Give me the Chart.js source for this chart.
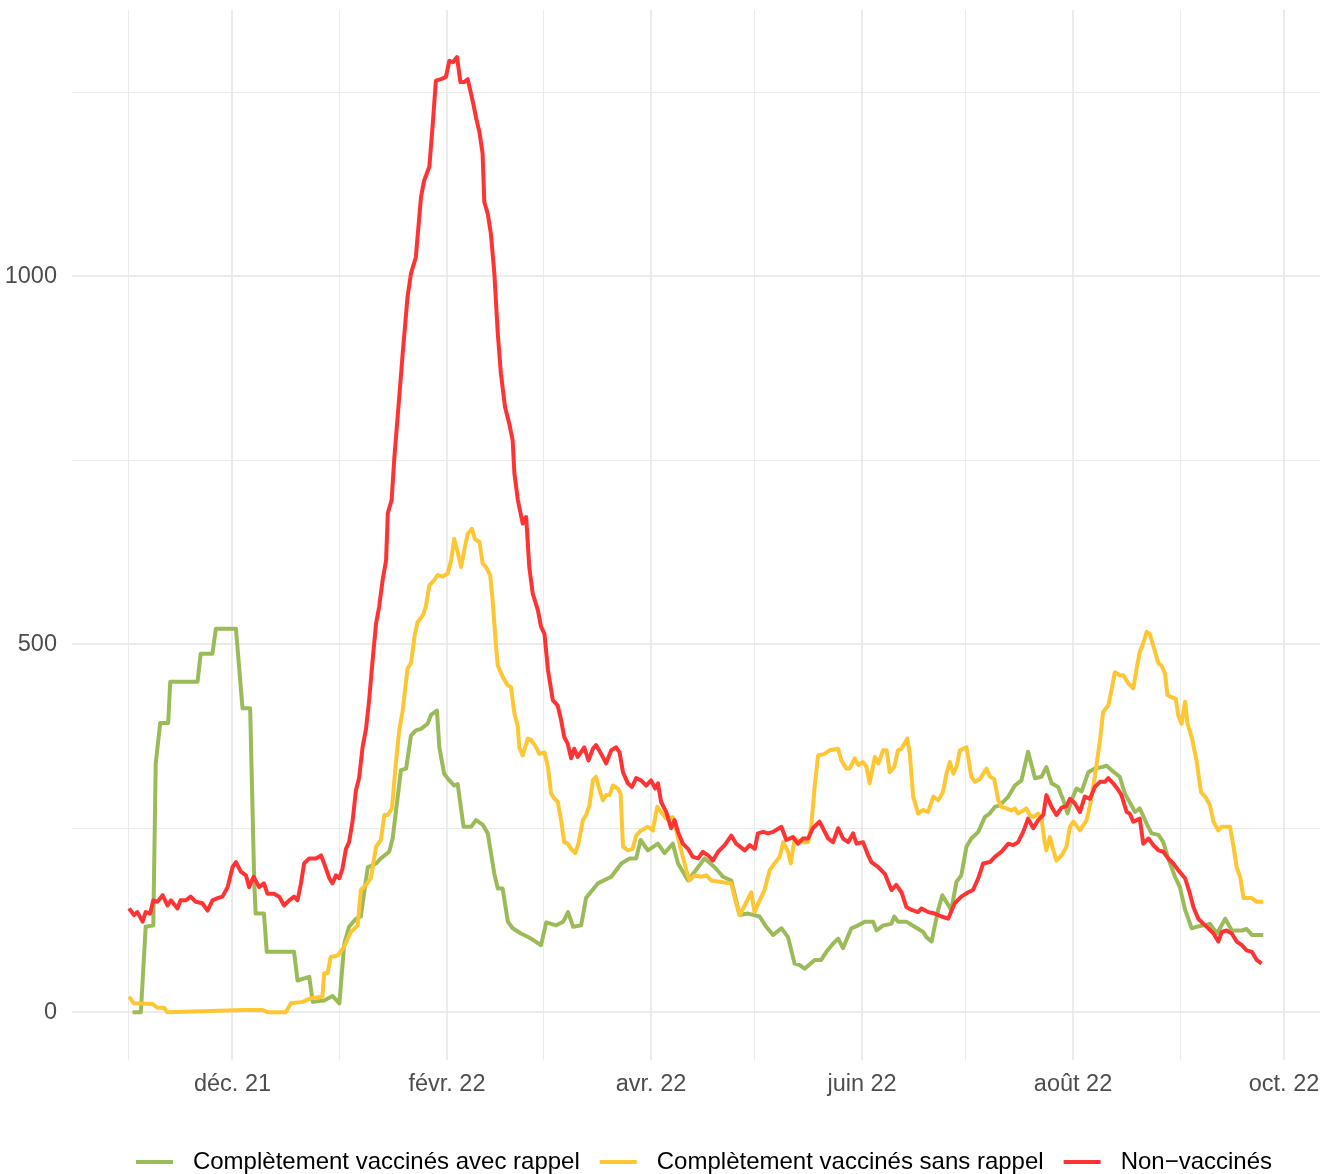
<!DOCTYPE html>
<html lang="fr">
<head>
<meta charset="utf-8">
<title>Vaccination</title>
<script src="https://cdn.jsdelivr.net/npm/chart.js@4.4.0/dist/chart.umd.min.js"></script>
<style>
  html, body { margin: 0; padding: 0; background: #fff; }
  #wrap { width: 1323px; height: 1174px; }
</style>
</head>
<body>
<div id="wrap"><canvas id="chart" width="1323" height="1174"></canvas></div>
<script>
  // jours depuis le 1er nov. 2021
  const xTickDays = [0, 30, 61, 92, 120, 151, 181, 212, 242, 273, 304, 334];
  const xTickLabels = { 30: 'déc. 21', 92: 'févr. 22', 151: 'avr. 22', 212: 'juin 22', 273: 'août 22', 334: 'oct. 22' };
  const yTicks = [0, 250, 500, 750, 1000, 1250];
  const yTickLabels = { 0: '0', 500: '500', 1000: '1000' };

  const seriesNames = ['Complètement vaccinés avec rappel', 'Complètement vaccinés sans rappel', 'Non−vaccinés'];
  const seriesColors = ['#9BBB59', '#FFC633', '#FF3333'];

  // ======== séries [jour, valeur] ========
  const avecRappel = [
    [1.1,0],[3.5,0],[4.9,116],[7.1,118],[7.8,338],[9.1,393],[11.4,393],[12.0,449],[19.9,449],[20.8,487],
    [24.2,487],[25.2,521],[31.0,521],[32.9,413],[35.1,413],[36.3,175],[36.7,134],[39.1,134],[39.9,82],[47.8,82],
    [48.8,43],[52.2,48],[53.2,14],[56.5,16],[58.9,22],[60.9,12],[62.3,93],[63.7,116],[65.7,127],[67.1,130],
    [69.1,197],[71.5,202],[72.9,209],[75.3,218],[76.3,236],[78.7,329],[80.2,331],[81.6,376],[83.0,383],[84.5,385],
    [86.4,392],[87.4,404],[89.1,410],[89.8,360],[91.2,324],[92.7,315],[94.1,308],[95.1,310],[96.8,252],[99.0,252],
    [100.4,261],[102.3,255],[103.8,243],[105.7,188],[106.7,168],[108.1,168],[109.6,123],[111.0,114],[113.4,107],[116.3,100],
    [119.2,91],[120.7,122],[123.6,118],[125.6,123],[127.0,136],[128.5,116],[130.8,118],[132.2,155],[135.6,175],[139.5,184],
    [142.4,202],[144.8,209],[146.7,209],[148.0,234],[150.1,220],[153.0,229],[154.9,216],[157.3,229],[158.8,202],[161.7,179],
    [164.6,197],[166.5,209],[169.4,197],[171.8,184],[174.2,179],[176.6,132],[179.0,134],[182.4,130],[184.3,116],[186.3,105],
    [188.7,114],[190.6,102],[192.5,66],[194.0,64],[195.4,59],[198.3,71],[200.2,71],[201.7,82],[203.6,93],[205.1,100],
    [206.5,87],[208.9,114],[210.9,118],[212.8,123],[215.2,123],[216.2,111],[218.1,118],[220.5,120],[221.3,130],[222.4,123],
    [224.8,123],[227.2,116],[229.7,109],[230.6,102],[232.1,96],[234.0,139],[235.2,159],[237.8,139],[239.3,177],[240.7,186],
    [242.2,225],[243.6,236],[245.6,245],[247.5,265],[248.9,270],[250.4,279],[251.8,281],[254.3,293],[256.2,308],[258.1,315],
    [260.0,354],[262.0,318],[263.9,320],[265.3,333],[266.8,311],[268.7,306],[270.2,288],[271.4,270],[272.6,288],[274.0,304],
    [275.5,300],[277.4,326],[279.3,331],[281.3,333],[282.7,335],[284.1,329],[286.5,320],[288.0,297],[289.9,281],[290.9,272],
    [292.3,277],[294.3,256],[295.7,243],[297.7,241],[299.1,231],[300.5,209],[302.5,184],[303.9,170],[305.4,139],[307.3,114],
    [308.7,116],[310.7,118],[312.6,120],[314.6,107],[317.0,127],[318.9,111],[321.8,111],[323.2,113],[324.7,105],[328.0,105]
  ];

  const sansRappel = [
    [0.1,21],[1.5,12],[6.9,11],[8.3,6],[10.2,6],[11.2,0],[33.4,3],[38.7,3],[40.1,0],[45.4,0],
    [46.9,12],[50.3,14],[52.7,19],[56.0,21],[56.5,53],[57.5,53],[58.4,75],[60.4,77],[62.3,89],[64.2,109],
    [66.2,118],[67.1,166],[68.6,173],[70.0,182],[71.5,225],[72.9,234],[73.9,268],[74.9,268],[76.1,277],[77.3,342],
    [78.2,383],[79.2,410],[80.6,467],[81.6,474],[82.6,510],[83.5,530],[85.0,539],[85.9,551],[86.9,580],[88.3,587],
    [89.3,594],[90.8,592],[92.2,596],[93.2,614],[94.1,643],[95.1,625],[96.1,605],[97.0,628],[98.0,650],[99.2,657],
    [100.1,643],[101.4,639],[102.3,610],[103.3,605],[104.5,594],[105.2,560],[106.2,496],[106.7,471],[108.1,456],[109.6,444],
    [110.5,442],[111.5,406],[112.5,388],[112.9,360],[113.9,349],[115.4,372],[116.3,370],[117.8,360],[118.7,351],[120.2,353],
    [121.2,333],[122.1,297],[123.1,290],[124.0,286],[125.0,261],[125.9,231],[126.9,229],[127.9,222],[129.1,216],[130.0,229],
    [131.3,261],[132.2,268],[133.2,281],[134.2,315],[135.1,320],[136.1,302],[137.1,288],[138.0,295],[139.0,295],[140.0,308],
    [141.4,304],[142.2,297],[142.9,225],[144.3,220],[145.7,222],[146.7,240],[148.1,247],[150.1,252],[151.5,247],[152.8,279],
    [153.9,272],[155.4,263],[157.3,265],[158.3,247],[159.7,220],[161.2,193],[162.1,179],[163.6,186],[165.5,184],[167.0,186],
    [168.4,179],[171.3,177],[174.2,175],[175.6,148],[176.6,132],[178.1,145],[180.0,163],[180.9,136],[182.4,152],[183.8,166],
    [185.3,193],[186.7,202],[188.2,211],[189.2,231],[190.6,218],[191.4,202],[192.5,236],[194.4,231],[196.4,231],[197.3,252],
    [198.3,306],[199.3,349],[201.2,351],[202.6,356],[205.1,358],[206.0,342],[207.5,331],[208.4,331],[209.9,345],[210.9,336],
    [212.3,340],[213.3,333],[214.2,311],[215.7,347],[216.7,338],[218.1,356],[219.1,356],[220.0,326],[221.3,333],[222.4,356],
    [223.4,358],[225.1,372],[225.8,351],[226.8,293],[228.2,270],[229.7,275],[231.1,272],[232.6,293],[234.0,288],[235.4,299],
    [236.4,324],[237.4,340],[238.4,324],[239.3,333],[240.3,356],[242.2,360],[243.6,320],[244.6,313],[246.1,317],[248.0,331],
    [249.0,320],[250.2,317],[251.4,288],[252.3,279],[253.8,277],[255.2,274],[256.2,277],[257.1,270],[258.6,274],[259.5,277],
    [260.5,268],[261.5,265],[262.9,270],[263.9,263],[264.7,234],[265.3,220],[266.3,238],[267.3,220],[268.2,206],[269.7,213],
    [271.1,225],[272.1,252],[273.1,259],[275.0,247],[276.9,261],[277.9,281],[279.3,320],[280.8,370],[281.7,408],[283.2,417],
    [284.1,437],[285.1,462],[286.5,458],[287.5,458],[289.0,447],[290.4,440],[291.4,467],[292.3,490],[293.3,501],[294.3,517],
    [295.2,514],[296.7,490],[297.7,474],[298.6,471],[299.6,460],[300.3,431],[301.5,428],[302.7,426],[303.4,404],[304.4,392],
    [305.4,422],[306.1,392],[307.3,374],[308.7,342],[310.0,299],[311.2,293],[312.6,281],[313.6,259],[315.0,247],[316.0,252],
    [318.4,252],[319.4,225],[320.3,197],[321.3,184],[322.3,155],[324.7,155],[326.1,150],[328.0,150]
  ];

  const nonVaccines = [
    [0.1,141],[1.5,132],[2.5,136],[4.0,123],[4.9,136],[6.2,134],[7.1,152],[8.3,150],[9.8,159],[11.2,145],
    [12.2,152],[14.1,141],[15.0,152],[16.5,152],[17.9,157],[19.4,150],[21.3,148],[22.8,138],[24.2,152],[25.7,155],
    [27.1,157],[28.6,170],[30.0,197],[31.0,204],[32.4,191],[33.9,186],[34.8,170],[36.1,184],[37.7,170],[39.1,175],
    [40.1,161],[42.0,161],[43.5,157],[44.9,145],[46.4,152],[47.8,157],[48.8,152],[49.8,175],[50.7,202],[52.2,209],
    [54.1,209],[55.6,213],[56.5,202],[58.0,182],[58.9,175],[59.9,186],[60.9,182],[61.8,195],[62.8,222],[63.7,231],
    [64.7,259],[65.7,302],[66.6,318],[67.6,360],[68.6,385],[69.5,424],[70.5,478],[71.5,528],[72.4,551],[73.4,587],
    [74.4,614],[74.9,678],[76.0,696],[76.8,754],[78.2,836],[79.2,895],[80.6,972],[81.6,1004],[83.0,1026],[84.5,1108],
    [85.4,1130],[86.9,1149],[87.9,1207],[88.8,1266],[90.3,1268],[91.7,1271],[92.7,1293],[93.7,1291],[94.9,1298],[95.9,1264],
    [97.0,1264],[98.0,1268],[99.5,1237],[100.4,1216],[101.4,1196],[102.3,1167],[102.8,1101],[103.8,1085],[104.7,1058],[105.7,1004],
    [106.7,922],[107.6,868],[108.8,822],[110.0,800],[111.0,777],[111.5,732],[112.5,696],[113.9,664],[114.9,673],[115.8,605],
    [116.8,569],[118.3,546],[119.2,524],[120.2,514],[121.2,465],[122.6,424],[124.0,417],[125.0,397],[125.9,374],[126.9,365],
    [127.9,345],[128.8,358],[129.8,347],[131.7,360],[132.9,342],[134.2,358],[135.1,363],[136.6,351],[138.0,338],[139.5,356],
    [140.9,360],[141.9,353],[142.9,326],[144.3,311],[145.5,306],[146.7,318],[148.1,315],[149.6,308],[151.0,315],[152.2,304],
    [153.0,311],[153.9,286],[155.4,272],[156.8,250],[157.8,261],[158.8,245],[160.2,229],[161.7,222],[163.1,211],[164.6,209],
    [166.0,218],[167.5,213],[168.9,206],[170.4,218],[172.3,227],[174.2,240],[175.6,229],[178.1,220],[179.5,227],[181.0,222],
    [181.9,243],[183.4,245],[184.8,243],[186.3,245],[188.7,252],[190.1,234],[192.0,238],[193.5,229],[194.9,236],[196.4,236],
    [197.8,250],[199.7,259],[200.7,250],[202.2,236],[203.6,231],[205.1,250],[206.5,236],[208.0,231],[209.4,243],[210.4,229],
    [212.3,231],[213.8,213],[214.7,204],[216.7,197],[218.6,188],[220.5,166],[221.9,173],[223.4,163],[224.8,143],[226.3,139],
    [228.2,136],[229.2,141],[231.1,136],[233.0,134],[235.0,130],[236.9,127],[238.8,148],[240.7,157],[242.7,163],[244.1,166],
    [245.6,182],[247.0,202],[249.0,204],[250.4,211],[252.3,218],[254.3,229],[255.7,227],[257.1,231],[258.6,245],[260.0,263],
    [261.5,250],[262.9,261],[264.4,268],[265.3,295],[266.8,279],[268.2,268],[269.7,278],[271.1,280],[272.1,290],[273.5,284],
    [275.0,272],[276.4,293],[277.9,290],[279.3,306],[280.8,313],[282.2,313],[283.2,318],[284.6,311],[286.1,302],[287.0,295],
    [288.5,272],[289.4,270],[290.4,259],[291.4,261],[292.3,263],[293.3,229],[294.8,236],[296.2,227],[297.7,220],[299.1,218],
    [300.5,209],[302.0,202],[303.4,193],[305.4,182],[306.8,161],[307.8,143],[309.2,127],[310.7,120],[312.1,114],[313.6,107],
    [315.0,96],[316.0,109],[317.4,111],[318.9,107],[320.3,96],[321.8,91],[323.2,84],[324.7,82],[326.1,71],[327.5,66]
  ];

  const FONT = '"Liberation Sans", Arial, Helvetica, sans-serif';
  const GRID = '#EBEBEB';

  // légende en bas, façon ggplot (trait + texte)
  const bottomLegend = {
    id: 'bottomLegend',
    afterDraw(chart) {
      const ctx = chart.ctx;
      const keyW = 37, keyGap = 20, itemGap = 20;
      ctx.save();
      ctx.font = '24px ' + FONT;
      const items = chart.data.datasets.map(ds => ({
        label: ds.label, color: ds.borderColor, w: ctx.measureText(ds.label).width
      }));
      const total = items.reduce((s, it) => s + keyW + keyGap + it.w, 0) + itemGap * (items.length - 1);
      let x = 704 - total / 2;
      const y = 1162;
      ctx.textBaseline = 'middle';
      ctx.textAlign = 'left';
      items.forEach(it => {
        ctx.strokeStyle = it.color;
        ctx.lineWidth = 4;
        ctx.beginPath();
        ctx.moveTo(x, y);
        ctx.lineTo(x + keyW, y);
        ctx.stroke();
        ctx.fillStyle = '#000000';
        ctx.fillText(it.label, x + keyW + keyGap, y);
        x += keyW + keyGap + it.w + itemGap;
      });
      ctx.restore();
    }
  };

  // pas de marge réservée pour le débordement des étiquettes
  const noOverflow = s => {
    s.paddingTop = 0; s.paddingBottom = 0; s.paddingLeft = 0; s.paddingRight = 0;
  };

  const toPoints = arr => arr.map(p => ({ x: p[0], y: p[1] }));
  const allSeries = [avecRappel, sansRappel, nonVaccines];

  new Chart(document.getElementById('chart'), {
    type: 'line',
    data: {
      datasets: allSeries.map((s, i) => ({
        label: seriesNames[i],
        data: toPoints(s),
        borderColor: seriesColors[i],
        backgroundColor: seriesColors[i],
        borderWidth: 4,
        pointRadius: 0,
        tension: 0,
        fill: false,
        borderJoinStyle: 'round',
        order: 3 - i // rouge dessiné en dernier
      }))
    },
    options: {
      responsive: false,
      animation: false,
      layout: { padding: { top: 10, right: 3, bottom: 74, left: 0 } },
      plugins: {
        legend: { display: false },
        tooltip: { enabled: false }
      },
      scales: {
        x: {
          type: 'linear',
          min: -16.4,
          max: 344.4,
          afterBuildTicks: s => { s.ticks = xTickDays.map(v => ({ value: v })); },
          afterFit: s => { s.height = 40; noOverflow(s); },
          ticks: {
            autoSkip: false,
            maxRotation: 0,
            padding: 10,
            color: '#4D4D4D',
            font: { family: FONT, size: 23.5 },
            callback: v => xTickLabels[v] || ''
          },
          grid: {
            color: GRID,
            lineWidth: c => (c.tick && xTickLabels[c.tick.value] ? 2 : 1),
            drawTicks: false
          },
          border: { display: false }
        },
        y: {
          type: 'linear',
          min: -65,
          max: 1362,
          afterBuildTicks: s => { s.ticks = yTicks.map(v => ({ value: v })); },
          afterFit: s => { s.width = 72; noOverflow(s); },
          ticks: {
            padding: 15,
            color: '#4D4D4D',
            font: { family: FONT, size: 23.5 },
            callback: v => (yTickLabels[v] !== undefined ? yTickLabels[v] : '')
          },
          grid: {
            color: GRID,
            lineWidth: c => (c.tick && yTickLabels[c.tick.value] !== undefined ? 2 : 1),
            drawTicks: false
          },
          border: { display: false }
        }
      }
    },
    plugins: [bottomLegend]
  });
</script>
</body>
</html>
